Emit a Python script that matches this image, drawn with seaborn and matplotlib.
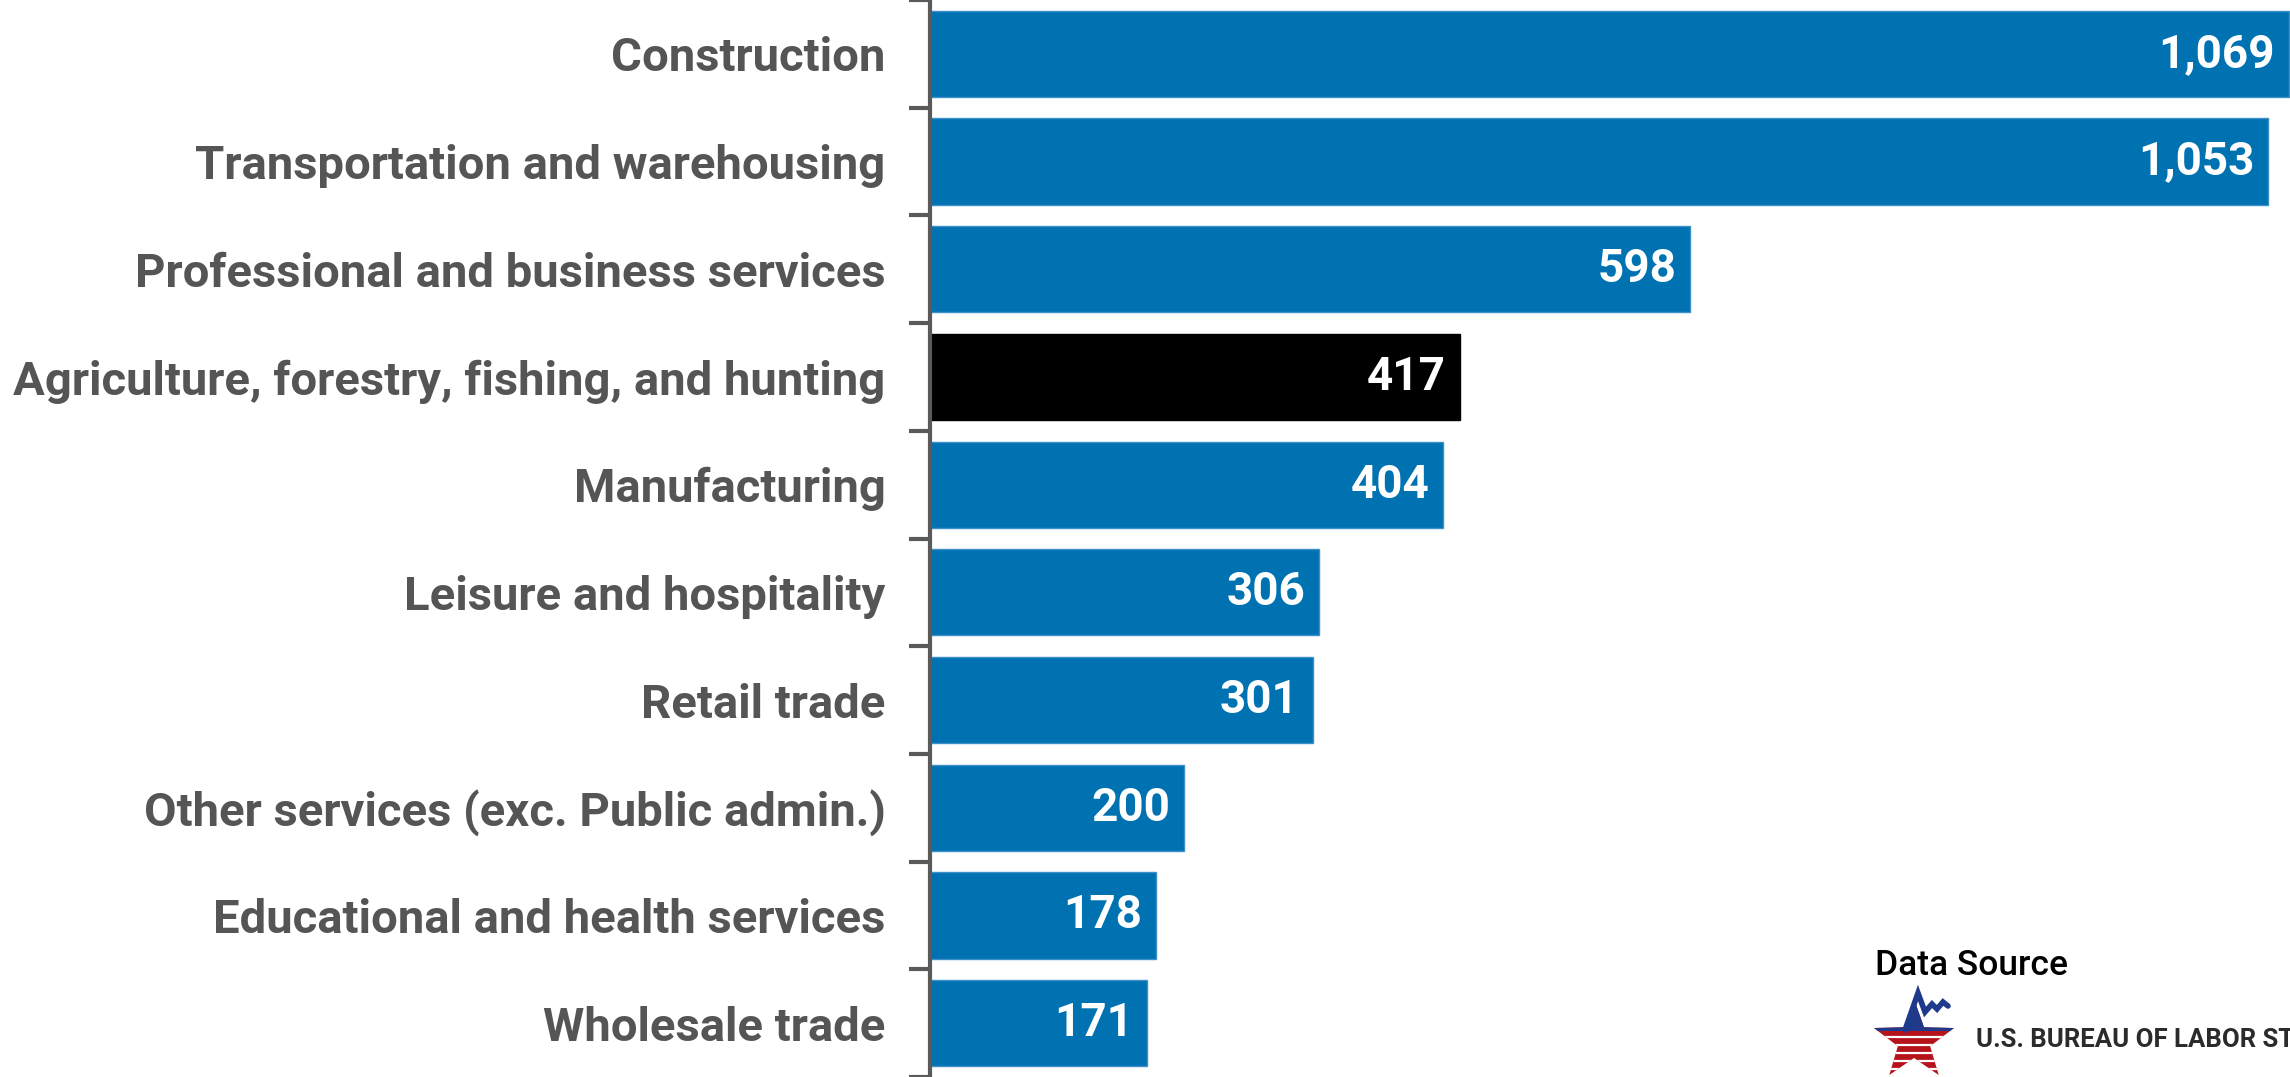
import matplotlib
matplotlib.use("Agg")
import matplotlib.pyplot as plt
import matplotlib.transforms as mtransforms
import seaborn as sns
import pandas as pd
import numpy as np
from matplotlib.patches import Polygon
from matplotlib.lines import Line2D

categories = [
    "Construction",
    "Transportation and warehousing",
    "Professional and business services",
    "Agriculture, forestry, fishing, and hunting",
    "Manufacturing",
    "Leisure and hospitality",
    "Retail trade",
    "Other services (exc. Public admin.)",
    "Educational and health services",
    "Wholesale trade",
]
values = [1069, 1053, 598, 417, 404, 306, 301, 200, 178, 171]
highlight = "Agriculture, forestry, fishing, and hunting"

BLUE = "#0072b2"
BLACK = "#000000"
colors = {c: (BLACK if c == highlight else BLUE) for c in categories}

sns.set_theme(style="white")
plt.rcParams["font.family"] = ["Roboto", "DejaVu Sans"]

W, H = 2290, 1077
fig = plt.figure(figsize=(W / 100, H / 100), dpi=100)
ax = fig.add_axes([930 / W, 0, 1 - 930 / W, 1])

df = pd.DataFrame({"category": categories, "value": values})
sns.barplot(data=df, y="category", x="value", hue="category", palette=colors,
            order=categories, legend=False, width=0.8, ax=ax, saturation=1,
            edgecolor="#3d90c8", linewidth=1)
for p, c in zip(ax.patches, categories):
    if c == highlight:
        p.set_edgecolor(BLACK)

ax.set_xlim(0, 1070)
ax.set_ylim(len(categories) - 0.5, -0.5)
ax.set_xlabel("")
ax.set_ylabel("")
ax.set_xticks([])
for s in ["top", "right", "bottom"]:
    ax.spines[s].set_visible(False)
ax.spines["left"].set_color("#5a5a5a")
ax.spines["left"].set_linewidth(3)

ax.set_yticks(range(len(categories)))
ax.set_yticklabels(categories, fontsize=34, fontweight="bold", color="#555555")
ax.tick_params(axis="y", which="major", length=0, pad=32)
ax.set_yticks(np.arange(-0.5, len(categories), 1.0), minor=True)
ax.tick_params(axis="y", which="minor", length=15, width=3, color="#5a5a5a", left=True)

off = mtransforms.offset_copy(ax.transData, fig=fig, x=-14, y=0, units="dots")
for i, v in enumerate(values):
    ax.text(v, i, f"{v:,}", transform=off, ha="right", va="center",
            color="white", fontsize=33, fontweight="bold")

# Data source block (overlay in pixel coordinates)
ov = fig.add_axes([0, 0, 1, 1], facecolor="none")
ov.set_xlim(0, W)
ov.set_ylim(H, 0)
ov.axis("off")
ov.text(1875, 975, "Data Source", fontsize=25.5, fontweight="medium",
        color="black", ha="left", va="baseline")
ov.text(1976, 1040, "U.S. BUREAU OF LABOR STATISTICS", fontsize=18.5,
        fontweight="bold", color="#2b2b2b", ha="left", va="center")

# star logo
cx, cy, R, r = 1914, 1041, 42, 17
pts = []
for k in range(10):
    ang = np.deg2rad(90 + 36 * k)
    rad = R if k % 2 == 0 else r
    pts.append((cx + rad * np.cos(ang), cy - rad * np.sin(ang)))
star = Polygon(pts, closed=True, facecolor="#b5121b", edgecolor="none")
ov.add_patch(star)
arm_y = cy - R * np.sin(np.deg2rad(18))
blue = Polygon([(1860, 990), (1970, 990), (1970, arm_y + 3), (1860, arm_y + 3)],
               facecolor="#1f3a8a", edgecolor="none")
ov.add_patch(blue)
blue.set_clip_path(star)
for yy in np.arange(arm_y + 9, 1080, 8):
    ln = Line2D([1860, 1970], [yy, yy], color="white", linewidth=1.6)
    ov.add_line(ln)
    ln.set_clip_path(star)
zig_x = [1905, 1918, 1925, 1932, 1937, 1943, 1948]
zig_y = [1030, 993, 1012, 1004, 1009, 1002, 1006]
ov.plot(zig_x, zig_y, color="#1f3a8a", linewidth=4, solid_joinstyle="miter")

fig.savefig("out.png", dpi=100)
